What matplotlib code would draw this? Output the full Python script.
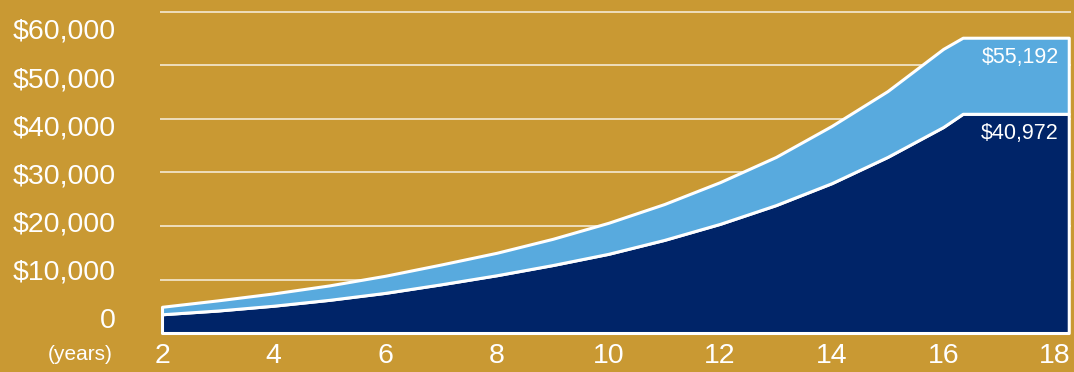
"""
Savings growth chart: two stacked areas on a gold panel.
"""

import numpy as np
import matplotlib
matplotlib.use("Agg")
import matplotlib.pyplot as plt

# ── Data ──────────────────────────────────────────────────────────
years = [2, 3, 4, 5, 6, 7, 8, 9, 10, 11, 12, 13, 14, 15, 16, 16.35, 18.25]
total = [4900, 6100, 7400, 8900, 10700, 12800, 15000, 17600, 20600, 24100,
         28200, 32900, 38700, 45200, 53100, 55192, 55192]
base = [3500, 4200, 5100, 6200, 7500, 9100, 10800, 12700, 14800, 17400,
        20400, 23900, 28000, 32900, 38500, 40972, 40972]

y_ticks = [0, 10000, 20000, 30000, 40000, 50000, 60000]
y_labels = ["0", "$10,000", "$20,000", "$30,000", "$40,000", "$50,000", "$60,000"]
x_ticks = [2, 4, 6, 8, 10, 12, 14, 16, 18]
end_labels = ["$55,192", "$40,972"]

# ── Style ─────────────────────────────────────────────────────────
_GOLD  = "#C99933"
_LIGHT = "#58AADE"
_NAVY  = "#002468"
_WHITE = "#FFFFFF"

plt.rcParams['font.family'] = ['Liberation Sans', 'DejaVu Sans']

W, H = 1074, 372
fig = plt.figure(figsize=(W / 100, H / 100), dpi=100)
fig.patch.set_facecolor(_GOLD)

# axes box in pixels: left 160, right 1071, top 10, bottom 333
ax = fig.add_axes([160 / W, (H - 333) / H, 911 / W, 323 / H])
ax.set_facecolor(_GOLD)
for s in ax.spines.values():
    s.set_visible(False)

px_per_year = 55.8
ax.set_xlim(2 - 2 / px_per_year, 2 + 909 / px_per_year)
ax.set_ylim(0, 60000 * 323 / 321)

# gridlines
for v in y_ticks[1:]:
    ax.axhline(v, color=_WHITE, lw=1.1, alpha=0.85, zorder=1)

# stacked areas with white outlines
ax.fill_between(years, 0, base, facecolor=_NAVY, edgecolor=_WHITE,
                linewidth=2.2, zorder=3, clip_on=False)
ax.fill_between(years, base, total, facecolor=_LIGHT, edgecolor=_WHITE,
                linewidth=2.2, zorder=3, clip_on=False)

# end value labels
for val, lab in zip([total[-1], base[-1]], end_labels):
    ax.annotate(lab, xy=(years[-1], val), xytext=(-10, -20),
                textcoords='offset pixels', ha='right', va='center',
                color=_WHITE, fontsize=15.5, zorder=5)

# x ticks
ax.set_xticks(x_ticks, [str(x) for x in x_ticks])
ax.tick_params(axis='x', length=0, pad=7, labelsize=20.5, colors=_WHITE)
ax.set_yticks([])

# y labels, evenly stacked down the left margin
ypos = np.linspace((333 - 321) / 323, (333 - 32) / 323, len(y_labels))
for yp, lab in zip(ypos, y_labels):
    ax.text(-44 / 911, yp, lab, transform=ax.transAxes, ha='right',
            va='center', color=_WHITE, fontsize=20.5)

ax.text(-47 / 911, -22 / 323, "(years)", transform=ax.transAxes,
        ha='right', va='center', color=_WHITE, fontsize=15)

fig.savefig("out.png", dpi=100, facecolor=fig.get_facecolor())
